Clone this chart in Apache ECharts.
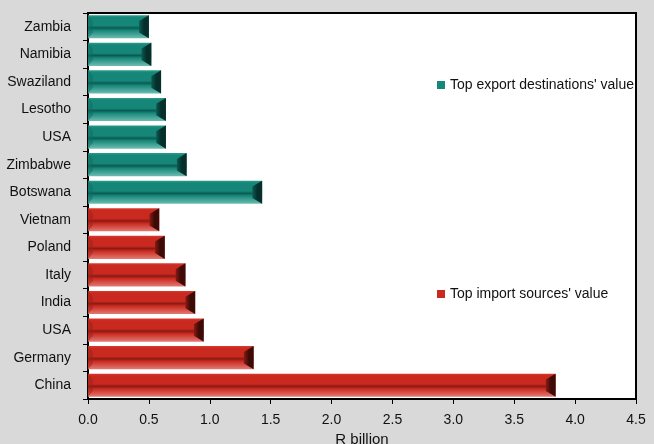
<!DOCTYPE html>
<html>
<head>
<meta charset="utf-8">
<script src="https://cdn.jsdelivr.net/npm/echarts@6/dist/echarts.min.js"></script>
<style>
html,body{margin:0;padding:0;background:#d9d9d9;}
#chart{width:654px;height:444px;}
</style>
</head>
<body>
<div id="chart"></div>
<script>
// Categories listed bottom to top
const categories = ['China','Germany','USA','India','Italy','Poland','Vietnam','Botswana','Zimbabwe','USA','Lesotho','Swaziland','Namibia','Zambia'];
const importValues = [3.84, 1.36, 0.95, 0.88, 0.80, 0.63, 0.585, null, null, null, null, null, null, null];
const exportValues = [null, null, null, null, null, null, null, 1.43, 0.81, 0.64, 0.64, 0.60, 0.52, 0.50];
const xTicks = ['0.0','0.5','1.0','1.5','2.0','2.5','3.0','3.5','4.0','4.5'];
const exportName = "Top export destinations' value";
const importName = "Top import sources' value";

const FONT = "'Liberation Sans', Arial, sans-serif";

const palettes = {
  export: {top:'#2a9c8e', body:'#168678', dark:'#0b5a52', low:'#6dbdb2', end:'#062f2b', left:'#0f6b61'},
  import: {top:'#d8392e', body:'#c9291f', dark:'#8a1a13', low:'#e27a74', end:'#3d0b07', left:'#9c2119'}
};

function makeRender(pal){
  return function(params, api){
    const v = api.value(0);
    const idx = api.value(1);
    if (v == null || isNaN(v)) return;
    const p0 = api.coord([0, idx]);
    const p1 = api.coord([v, idx]);
    const band = api.size([0, 1])[1];
    const h = band * 0.84;
    const x0 = p0[0], x1 = p1[0];
    const y0 = p0[1] - h/2, y1 = p0[1] + h/2;
    const b = Math.min(h * 0.42, (x1 - x0)/2);
    return {
      type:'group',
      children:[
        {type:'rect', shape:{x:x0, y:y0, width:x1-x0, height:h},
          style:{fill:new echarts.graphic.LinearGradient(0,0,0,1,[
            {offset:0,color:pal.top},{offset:0.1,color:pal.body},{offset:0.45,color:pal.body},
            {offset:0.55,color:pal.dark},{offset:0.65,color:pal.body},{offset:1,color:pal.low}])}},
        {type:'polygon', shape:{points:[[x1,y0],[x1,y1],[x1-b,y1-b*0.6],[x1-b,y0+b*0.6]]},
          style:{fill:new echarts.graphic.LinearGradient(0,0,1,0,[
            {offset:0,color:pal.dark},{offset:0.5,color:pal.end},{offset:1,color:pal.end}])}},
        {type:'polygon', shape:{points:[[x0,y0],[x0,y1],[x0+b*0.5,y1-b*0.6],[x0+b*0.5,y0+b*0.6]]},
          style:{fill:pal.left, opacity:0.5}}
      ]
    };
  };
}

function toData(arr){
  return arr.map((v,i)=> v==null ? [null, i] : [v, i]);
}

const chart = echarts.init(document.getElementById('chart'));
chart.setOption({
  backgroundColor:'#d9d9d9',
  animation:false,
  textStyle:{fontFamily:FONT},
  grid:{left:88, right:18, top:13, bottom:45, outerBoundsMode:'none', containLabel:false,
    show:true, backgroundColor:'#ffffff', borderColor:'#000', borderWidth:2},
  legend:[
    {data:[{name:exportName, icon:'rect', itemStyle:{color:'#168678'}}], left:432, top:73, itemWidth:8, itemHeight:8, itemGap:6,
      textStyle:{fontFamily:FONT, fontSize:14, color:'#111'}},
    {data:[{name:importName, icon:'rect', itemStyle:{color:'#c9291f'}}], left:432, top:282, itemWidth:8, itemHeight:8, itemGap:6,
      textStyle:{fontFamily:FONT, fontSize:14, color:'#111'}}
  ],
  xAxis:{
    type:'value', min:0, max:4.5, interval:0.5,
    name:'R billion', nameLocation:'middle', nameGap:31,
    nameTextStyle:{fontFamily:FONT, fontSize:15, color:'#111'},
    axisLine:{show:true, lineStyle:{color:'#000', width:2}},
    axisTick:{show:true, length:5, lineStyle:{color:'#000'}},
    axisLabel:{fontFamily:FONT, fontSize:14, color:'#111', margin:14, formatter:(v,i)=>xTicks[Math.round(v/0.5)]},
    splitLine:{show:false}
  },
  yAxis:{
    type:'category', data:categories,
    axisLine:{show:true, lineStyle:{color:'#000', width:2}},
    axisTick:{show:true, length:5, lineStyle:{color:'#000'}},
    axisLabel:{fontFamily:FONT, fontSize:14, color:'#111', margin:17},
    splitLine:{show:false}
  },
  series:[
    {name:exportName, type:'custom', renderItem:makeRender(palettes.export), itemStyle:{color:'#168678'},
      encode:{x:0, y:1}, data:toData(exportValues)},
    {name:importName, type:'custom', renderItem:makeRender(palettes.import), itemStyle:{color:'#c9291f'},
      encode:{x:0, y:1}, data:toData(importValues)}
  ]
});
</script>
</body>
</html>
